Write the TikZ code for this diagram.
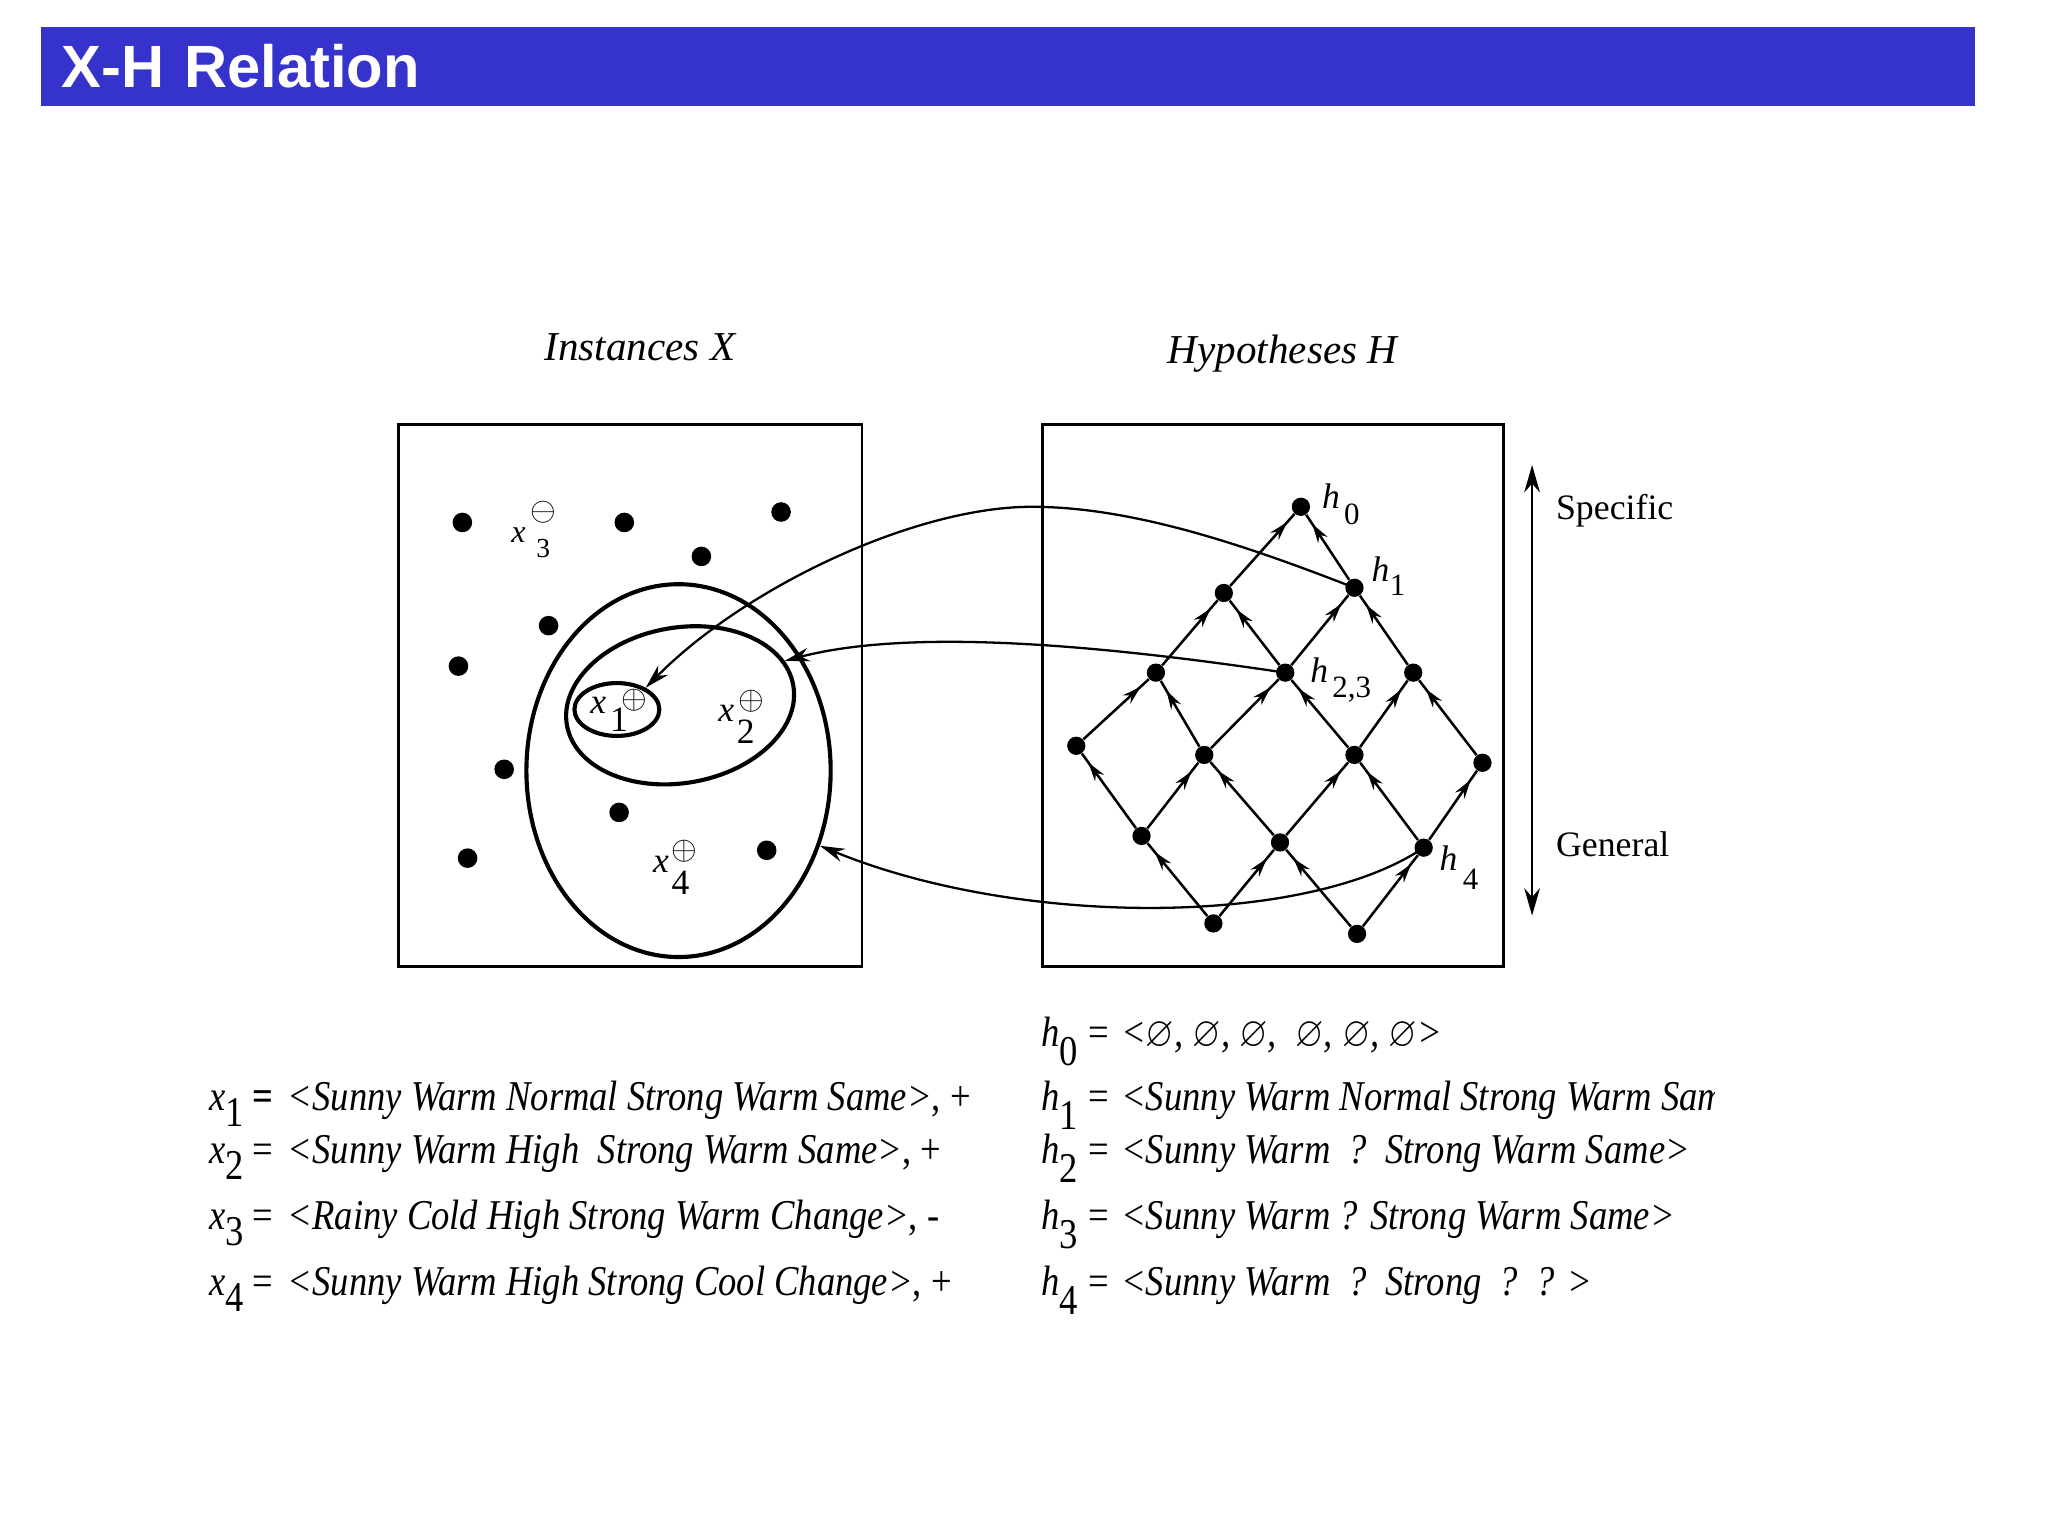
\documentclass[tikz,border=0pt]{standalone}
\usepackage{fontspec}
\usepackage{amssymb}
\usepackage{graphicx}
\setmainfont{Liberation Serif}
\newfontfamily\fontetitulo{Liberation Sans}
\usetikzlibrary{arrows.meta,calc,shapes.geometric,decorations.markings}
\definecolor{TituloAzul}{RGB}{54,51,204}
\newcommand{\estreito}[1]{\scalebox{0.862}[1]{#1}}
\tikzset{
  titulo/.style={fill=TituloAzul, text=white, anchor=north west,
                 font=\fontetitulo\bfseries\fontsize{26}{30}\selectfont,
                 minimum width=29.62cm, minimum height=1.22cm,
                 text width=28.98cm, inner xsep=0.32cm, align=left},
  cabecalho/.style={font=\itshape\fontsize{17.9}{21}\selectfont, anchor=base, inner sep=0pt},
  caixa/.style={draw, line width=1.1pt},
  ponto/.style={circle, fill=black, inner sep=0pt, minimum size=0.28cm},
  pontox/.style={ponto, minimum size=0.3cm},
  contorno/.style={ellipse, draw, line width=1.8pt, inner sep=0pt},
  aresta/.style={line width=1.1pt, postaction={decorate},
                 decoration={markings, mark=at position -0.17cm with
                   {\arrow{Stealth[length=0.29cm,width=0.17cm]}}}},
  conexao/.style={-{Stealth[length=0.38cm,width=0.21cm]}, line width=1pt},
  escala/.style={{Stealth[length=0.42cm,width=0.24cm]}-{Stealth[length=0.42cm,width=0.24cm]},
                 line width=1.2pt},
  rotuloh/.style={font=\itshape\fontsize{15.5}{17}\selectfont, inner sep=0pt},
  subh/.style={font=\fontsize{13.5}{15}\selectfont, inner sep=0pt},
  rotx/.style={font=\itshape\fontsize{15.5}{17}\selectfont, inner sep=0pt},
  subx/.style={font=\fontsize{15.5}{17}\selectfont, inner sep=0pt},
  sinal/.style={font=\fontsize{15}{17}\selectfont, inner sep=0pt},
  lista/.style={font=\fontsize{18.5}{21}\selectfont, anchor=base west, inner sep=0pt},
  lado/.style={font=\fontsize{15.6}{18}\selectfont, anchor=base west, inner sep=0pt},
}

\begin{document}
\begin{tikzpicture}[x=0.02cm, y=-0.02cm]
  \useasboundingbox (0,0) rectangle (1568,1176);

  % Barra de título
  \node[titulo] (titulo) at (31,20) {X-H Relation};

  % Cabeçalhos e caixas
  \node[cabecalho] (instX) at (490,276) {Instances X};
  \node[cabecalho] (hipH) at (982,278) {Hypotheses H};
  \draw[caixa] (305,325) rectangle (660,740);
  \draw[caixa] (798,325) rectangle (1151,740);

  % Instâncias soltas
  \foreach \px/\py [count=\n] in {354/400, 478/400, 598/392, 537/426, 420/479,
                                  351/510, 386/589, 474/622, 358/657, 587/651}{
    \node[pontox] (d\n) at (\px,\py) {};
  }

  % Contornos das hipóteses no espaço X
  \node[contorno, minimum width=4.66cm, minimum height=5.71cm] (e3) at (519.5,590) {};
  \node[contorno, rotate=10, minimum width=3.52cm, minimum height=2.38cm] (e2) at (520.7,540) {};
  \node[contorno, minimum width=1.3cm, minimum height=0.81cm] (e1) at (472.3,543.2) {};

  % Rótulos das instâncias
  \foreach \k/\ax/\ay/\bx/\by/\cx/\cy in {1/458/540/474/551/486/536,
                                          2/556/546/571/560/575/537,
                                          4/506/662/521/676/524/652}{
    \node[rotx] (x\k) at (\ax,\ay) {x};
    \node[subx] (xd\k) at (\bx,\by) {\k};
    \node[sinal] (xs\k) at (\cx,\cy) {$\oplus$};
  }
  \node[rotx, font=\itshape\fontsize{14}{16}\selectfont] (x3) at (397,410) {x};
  \node[subx, font=\fontsize{12}{14}\selectfont] (xd3) at (416,420) {3};
  \node[sinal] (xs3) at (416,392) {$\ominus$};

  % Reticulado de hipóteses
  \foreach \nome/\px/\py in {h0/996/388, h1/1037/450, ha/937/454, hb/885/515,
                             h23/984/515, hc/1082/515, hd/824/571, he/922/578,
                             hf/1037/578, hg/1135/584, hi/874/640, hj/980/645,
                             h4/1090/649, hk/929/707, hl/1039/715}{
    \node[ponto] (\nome) at (\px,\py) {};
  }
  \foreach \de/\para in {ha/h0, h1/h0, hb/ha, h23/ha, h23/h1, hc/h1, hd/hb, he/hb,
                         he/h23, hf/h23, hf/hc, hg/hc, hi/hd, hi/he, hj/he, hj/hf,
                         h4/hf, h4/hg, hk/hi, hk/hj, hl/hj, hl/h4}{
    \draw[aresta] (\de) -- (\para);
  }
  \foreach \nm/\ax/\ay/\bx/\by/\indice in {0/1019/380/1035/394/0, 1/1057/436/1070/448/1,
                                          23/1010/513/1035/528/{2,3}, 4/1109/657/1126/673/4}{
    \node[rotuloh] (lh\nm) at (\ax,\ay) {h};
    \node[subh] (sh\nm) at (\bx,\by) {\indice};
  }

  % Ligações H -> X
  \draw[conexao] (h1.center) .. controls (960,420) and (870,388) .. (790,388)
                             .. controls (700,388) and (570,450) .. (e1.37);
  \draw[conexao] (h23.center) .. controls (850,495) and (700,480) .. (e2.13);
  \draw[conexao] (h4.center) .. controls (1000,710) and (780,710) .. (e3.332);

  % Eixo específico / geral
  \coordinate (escsup) at (1173,356);
  \coordinate (escinf) at (1173,701);
  \draw[escala] (escsup) -- (escinf);
  \node[lado] (especifico) at (1191,398) {Specific};
  \node[lado] (geral) at (1191,656) {General};

  % Listas de instâncias e hipóteses
  \foreach \i/\yy/\igual/\txt in {
      1/850/{\textbf{=}}/{{\itshape <Sunny Warm Normal Strong Warm Same>}, +},
      2/891/{=}/{{\itshape <Sunny Warm High\ \ Strong Warm Same>}, +},
      3/941/{=}/{{\itshape <Rainy Cold High Strong Warm Change>}, -},
      4/992/{=}/{{\itshape <Sunny Warm High Strong Cool Change>}, +}}{
    \node[lista] (xv\i) at (160,\yy) {\estreito{\textit{x}\raisebox{-0.38em}{\i}}};
    \node[lista] (xi\i) at (193,\yy) {\estreito{\igual}};
    \node[lista] (xt\i) at (220,\yy) {\estreito{\txt}};
  }
  \begin{scope}
    \clip (0,0) rectangle (1313,1176);
    \foreach \i/\yy/\txt in {
        0/801/{<$\varnothing$, $\varnothing$, $\varnothing$,\ \ $\varnothing$, $\varnothing$, $\varnothing$>},
        1/850/{<Sunny Warm Normal Strong Warm Same>},
        2/891/{<Sunny Warm\ \ ?\ \ Strong Warm Same>},
        3/941/{<Sunny Warm ? Strong Warm Same>},
        4/992/{<Sunny Warm\ \ ?\ \ Strong\ \ ?\ \ ? >}}{
      \node[lista] (hv\i) at (797,\yy) {\estreito{\textit{h}\raisebox{-0.45em}{\i}}};
      \node[lista] (hi\i) at (833,\yy) {\estreito{=}};
      \node[lista] (ht\i) at (858,\yy) {\estreito{\itshape\txt}};
    }
  \end{scope}
\end{tikzpicture}
\end{document}
